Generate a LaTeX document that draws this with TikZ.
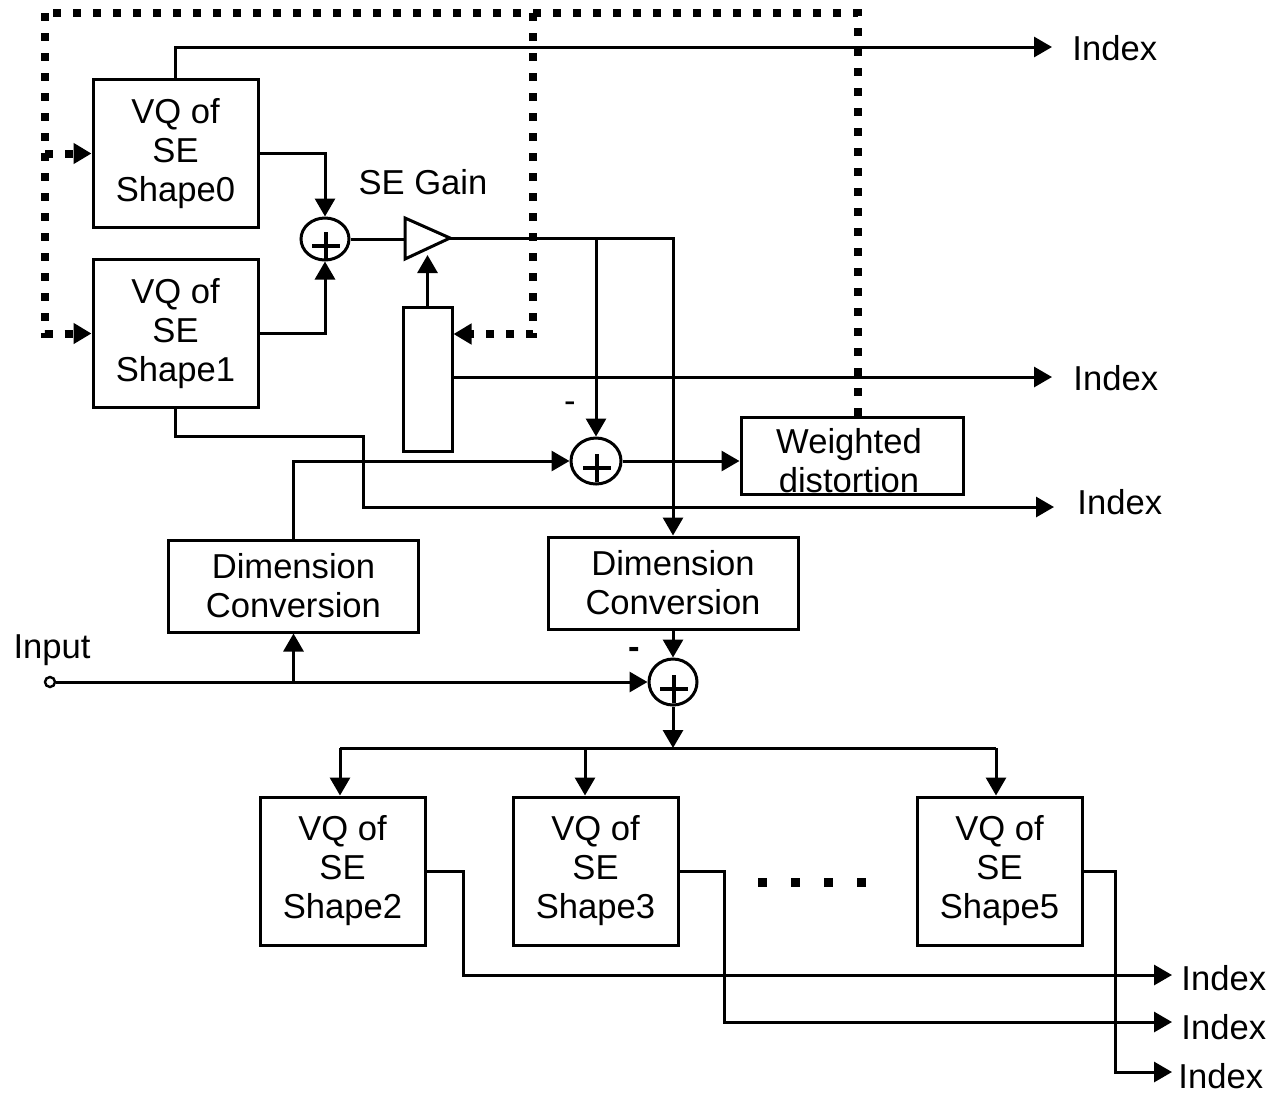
\documentclass[tikz,border=0pt]{standalone}
\usepackage{fontspec}
\setmainfont{Liberation Sans}
\usetikzlibrary{arrows.meta,shapes.geometric}
\begin{document}
\begin{tikzpicture}[x=0.5pt,y=-0.5pt,
  every node/.style={font=\fontsize{17.3pt}{19.5pt}\selectfont},
  blk/.style={draw, line width=1.5pt, inner sep=0pt, align=center},
  vq/.style={blk, minimum width=82.5pt, minimum height=74pt},
  dc/.style={blk, minimum width=125pt, minimum height=46pt},
  sum/.style={draw, ellipse, line width=1.5pt, inner sep=0pt},
  wire/.style={line width=1.5pt},
  tip/.style={-{Triangle[length=9pt,width=10pt]}},
  arr/.style={wire, tip},
  fb/.style={line width=4pt, dash pattern=on 4pt off 6pt},
  plus/.style={line width=2.2pt},
  lbl/.style={inner sep=0pt, anchor=west}
]
\useasboundingbox (0,0) rectangle (1272,1094);

% ---------- blocks ----------
\node[vq] (s0) at (175.5,153.5) {VQ of\\SE\\Shape0};
\node[vq] (s1) at (175.5,333.5) {VQ of\\SE\\Shape1};
\node[blk, minimum width=24.5pt, minimum height=72pt] (gb) at (427.5,379) {};
\node[blk, minimum width=111pt, minimum height=38.5pt] (wd) at (852,455.5) {};
\node[align=center, inner sep=0pt] (wdt) at (849,461) {Weighted\\distortion};
\node[dc] (dc1) at (293.5,586) {Dimension\\Conversion};
\node[dc] (dc2) at (673,583) {Dimension\\Conversion};
\node[vq] (s2) at (342.5,871) {VQ of\\SE\\Shape2};
\node[vq] (s3) at (595.5,871) {VQ of\\SE\\Shape3};
\node[vq] (s5) at (999.5,871) {VQ of\\SE\\Shape5};

% ---------- summing junctions ----------
\node[sum, minimum width=24pt, minimum height=21pt] (a1) at (325,239) {};
\node[sum, minimum width=25pt, minimum height=23pt] (a2) at (596,461) {};
\node[sum, minimum width=24pt, minimum height=23pt] (a3) at (673,682) {};
\foreach \s in {a1,a2,a3}
  \draw[plus] ([shift={(1,7)}]\s.center) +(-14,0) -- +(14,0) +(0,-14) -- +(0,14);

% ---------- gain amplifier ----------
\coordinate (gtl) at (405,218);
\coordinate (gbl) at (405,259);
\coordinate (gtip) at (450,238);
\coordinate (gin) at (405,238);
\coordinate (gctl) at (427.5,255);
\draw[wire, line join=miter] (gtl) -- (gtip) -- (gbl) -- cycle;
\node (gl) at (423,182) {SE Gain};

% ---------- input ----------
\node[circle, draw, line width=1.2pt, minimum size=5pt, inner sep=0pt] (in) at (50,682) {};
\node (inl) at (52,650) {Input};

% ---------- output labels ----------
\node[lbl] (i1) at (1072,48) {Index};
\node[lbl] (i2) at (1073,378) {Index};
\node[lbl] (i3) at (1077,502) {Index};
\node[lbl] (i4) at (1181,978) {Index};
\node[lbl] (i5) at (1181,1027) {Index};
\node[lbl] (i6) at (1178,1076) {Index};
\coordinate (t1) at (1052,47);
\coordinate (t2) at (1052,377);
\coordinate (t3) at (1054,507);
\coordinate (t4) at (1172,975);
\coordinate (t5) at (1172,1022);
\coordinate (t6) at (1172,1072);

% ---------- sign labels ----------
\node (m2) at (570,407) {-};
\node (m3) at (634,653) {\textbf{-}};

% ---------- solid connectors ----------
\draw[arr] (s0.north) |- (t1);
\draw[arr] (s0.east) -| (a1.north);
\draw[arr] (s1.east) -| (a1.south);
\draw[wire] (a1.east) -- (a1.east -| gin);
\draw[arr] (gb.north) -- (gctl);
\draw[arr] (gtip) -| (dc2.north);
\coordinate (br1) at (596,238);
\draw[arr] (br1) -- (a2.north);
\draw[arr] (gb.east |- t2) -- (t2);
\draw[arr] (a2.east) -- (a2.east -| wd.west);
\draw[arr] (s1.south) |- (363,436) |- (t3);
\draw[arr] (dc1.north) |- (a2.west);
\draw[arr] (in.east) -- (a3.west);
\coordinate (br2) at (dc1.south |- in);
\draw[arr] (br2) -- (dc1.south);
\draw[arr] (dc2.south) -- (a3.north);
\coordinate (bus) at (673,748);
\draw[arr] (a3.south) -- (bus);
\coordinate (d2) at (340,748);
\coordinate (d3) at (585,748);
\coordinate (d5) at (996,748);
\draw[wire] (d2) -- (d5);
\draw[arr] (d2) -- (d2 |- s2.north);
\draw[arr] (d3) -- (d3 |- s3.north);
\draw[arr] (d5) -- (d5 |- s5.north);
\draw[arr] (s2.east) -| (463,975) -- (t4);
\draw[arr] (s3.east) -| (724,1022) -- (t5);
\draw[arr] (s5.east) -| (1115,1072) -- (t6);

% ---------- dotted feedback from the distortion measure ----------
\coordinate (f0) at ([xshift=3pt]wd.north);
\coordinate (fc) at (45,13);
\coordinate (fm) at (533,13);
\draw[fb] (f0) |- (fc);
\draw[fb, tip] (fc) |- (s1.west);
\draw[fb, tip] (fc |- s0.west) -- (s0.west);
\draw[fb, tip] (fm) |- ([yshift=22.5pt]gb.east);

% ---------- ellipsis between the shape quantizers ----------
\draw[line width=4.5pt, dash pattern=on 4.5pt off 12pt] (758,882) -- (870,882);
\end{tikzpicture}
\end{document}
